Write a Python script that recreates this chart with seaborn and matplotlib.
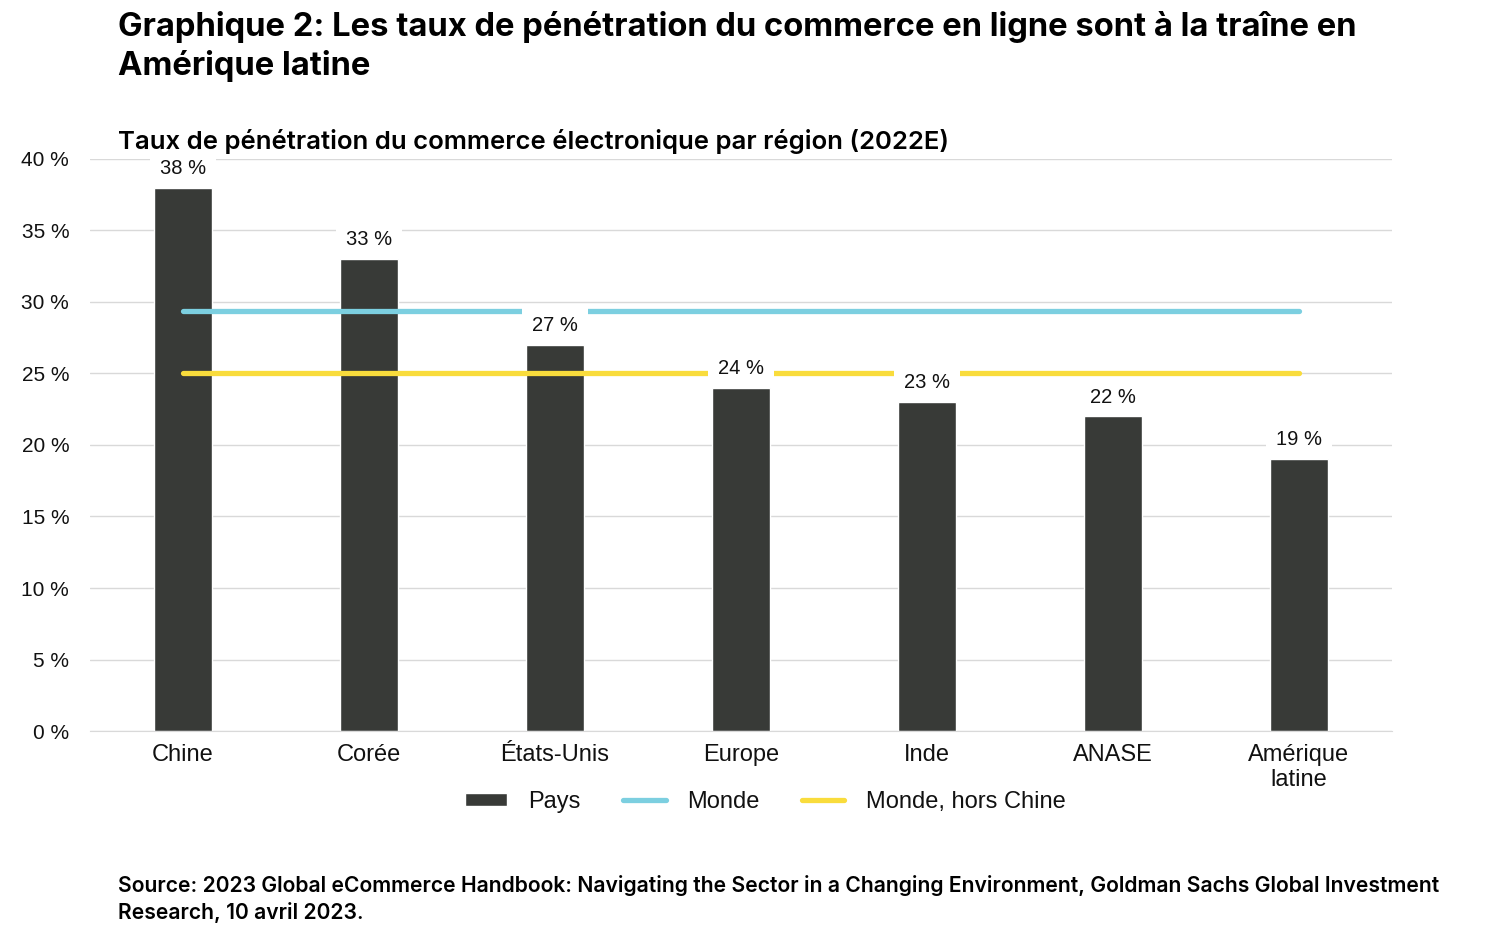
import pandas as pd
import seaborn as sns
import matplotlib.pyplot as plt
from matplotlib.patches import Patch
from matplotlib.lines import Line2D

# data
regions = ["Chine", "Corée", "États-Unis", "Europe", "Inde", "ANASE", "Amérique\nlatine"]
taux = [38, 33, 27, 24, 23, 22, 19]
monde = [29.4] * 7
monde_hors_chine = [25.0] * 7
y_ticks = [0, 5, 10, 15, 20, 25, 30, 35, 40]

bar_color = "#383a37"
blue = "#7ccfe0"
yellow = "#f9dc3c"

df = pd.DataFrame({"region": regions, "taux": taux,
                   "monde": monde, "hors": monde_hors_chine})
df["pos"] = range(len(df))

sns.set_style("white")
plt.rcParams["font.family"] = ["Liberation Sans", "DejaVu Sans"]
plt.rcParams["text.color"] = "#111111"
plt.rcParams["xtick.color"] = "#111111"
plt.rcParams["ytick.color"] = "#111111"

fig = plt.figure(figsize=(15, 9.39), dpi=100)
ax = fig.add_axes([0.06, 0.2215, 0.868, 0.6092])

sns.barplot(data=df, x="pos", y="taux", color=bar_color, width=0.31,
            saturation=1, ax=ax, zorder=2)
sns.lineplot(data=df, x="pos", y="monde", color=blue, lw=3.8, ax=ax, zorder=3)
sns.lineplot(data=df, x="pos", y="hors", color=yellow, lw=3.8, ax=ax, zorder=3)

for i, v in enumerate(taux):
    ax.text(i, v + 1.35, f"{v} %", ha="center", va="center", fontsize=14.5,
            color="#111111", zorder=5,
            bbox=dict(facecolor="white", edgecolor="none", pad=7))

ax.set_xlim(-0.5, 6.5)
ax.set_ylim(0, 40)
ax.set_yticks(y_ticks)
ax.set_yticklabels([f"{t} %" for t in y_ticks], fontsize=15)
ax.set_xticks(range(len(regions)))
ax.set_xticklabels(regions, fontsize=17)
ax.set_xlabel("")
ax.set_ylabel("")
ax.yaxis.grid(True, color="#d9d9d9", lw=1)
ax.set_axisbelow(True)
ax.tick_params(axis="y", length=0, pad=15)
ax.tick_params(axis="x", length=0, pad=9)
for s in ["top", "right", "left"]:
    ax.spines[s].set_visible(False)
ax.spines["bottom"].set_color("#d9d9d9")

handles = [Patch(facecolor=bar_color, label="Pays"),
           Line2D([], [], color=blue, lw=3.8, label="Monde"),
           Line2D([], [], color=yellow, lw=3.8, label="Monde, hors Chine")]
fig.legend(handles=handles, loc="center", bbox_to_anchor=(0.51, 0.146), ncol=3,
           frameon=False, fontsize=17, handlelength=1.8, columnspacing=1.8,
           handletextpad=0.9, handleheight=0.5)

fig.text(0.079, 0.988, "Graphique 2: Les taux de pénétration du commerce en ligne sont à la traîne en\nAmérique latine",
         ha="left", va="top", fontsize=23.6, fontweight="bold", family=["Inter", "DejaVu Sans"],
         linespacing=1.25, color="black")
fig.text(0.079, 0.849, "Taux de pénétration du commerce électronique par région (2022E)",
         ha="left", va="center", fontsize=18.5, fontweight="semibold",
         family=["Inter", "DejaVu Sans"], color="black")
fig.text(0.079, 0.068, "Source: 2023 Global eCommerce Handbook: Navigating the Sector in a Changing Environment, Goldman Sachs Global Investment\nResearch, 10 avril 2023.",
         ha="left", va="top", fontsize=15.2, fontweight="semibold",
         family=["Inter", "DejaVu Sans"], linespacing=1.35, color="black")

fig.savefig("out.png", dpi=100, facecolor="white")
